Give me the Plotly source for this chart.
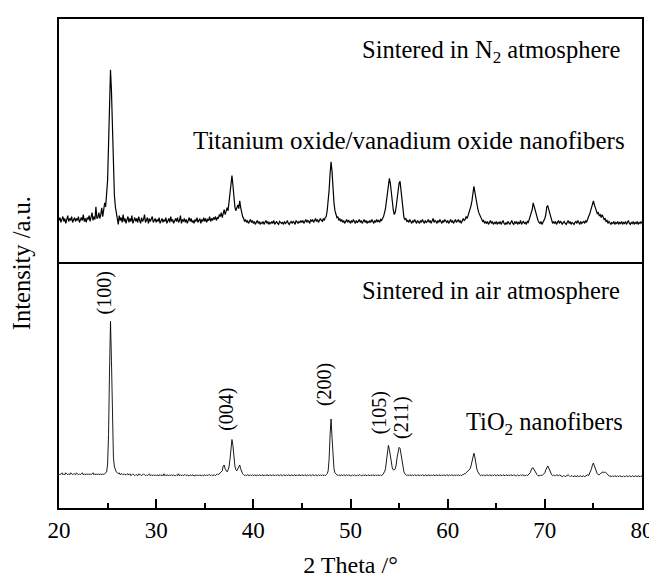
import plotly.graph_objects as go
from plotly.subplots import make_subplots

# 2-theta sampling grid (degrees)
X_START, X_STEP, N_PTS = 20.0, 0.1, 601
two_theta = [round(X_START + X_STEP * i, 1) for i in range(N_PTS)]

# Titanium oxide / vanadium oxide nanofibers, sintered in N2 (a.u.), 20.0 .. 80.0
int_n2 = [
    44, 47, 42, 45, 48, 43, 46, 41, 45, 49,
    43, 46, 44, 48, 42, 45, 47, 43, 46, 44,
    48, 42, 45, 47, 44, 50, 43, 46, 42, 47,
    45, 49, 43, 47, 52, 44, 48, 45, 58, 46,
    47, 52, 46, 50, 57, 48, 54, 62, 58, 68,
    85, 122, 168, 198, 176, 130, 92, 70, 58, 52,
    47, 40, 49, 44, 47, 42, 50, 43, 46, 41,
    45, 48, 42, 46, 43, 49, 41, 45, 47, 43,
    46, 42, 48, 44, 41, 47, 43, 45, 50, 42,
    44, 47, 41, 46, 43, 45, 48, 42, 44, 46,
    42, 45, 43, 47, 41, 44, 46, 42, 45, 43,
    47, 41, 44, 46, 42, 48, 43, 45, 41, 44,
    46, 43, 47, 42, 44, 49, 41, 45, 43, 46,
    42, 45, 41, 44, 47, 43, 46, 42, 44, 41,
    45, 43, 47, 42, 44, 46, 41, 45, 43, 47,
    43, 46, 42, 45, 44, 48, 43, 46, 44, 47,
    45, 48, 44, 47, 46, 50, 48, 52, 47, 52,
    55, 50, 53, 57, 54, 62, 68, 80, 90, 80,
    66, 58, 54, 57, 60, 56, 64, 57, 52, 48,
    46, 43, 45, 42, 44, 41, 43, 45, 42, 44,
    41, 43, 40, 42, 44, 41, 43, 40, 42, 41,
    43, 40, 42, 44, 41, 43, 40, 42, 41, 43,
    41, 44, 40, 42, 43, 41, 40, 43, 42, 41,
    42, 40, 43, 41, 42, 44, 41, 40, 42, 43,
    41, 43, 42, 40, 44, 42, 41, 43, 42, 44,
    42, 44, 41, 43, 45, 42, 44, 43, 41, 45,
    43, 45, 42, 44, 46, 43, 45, 42, 44, 46,
    44, 43, 46, 44, 47, 48, 54, 62, 75, 92,
    104, 94, 76, 62, 54, 50, 47, 48, 44, 46,
    43, 45, 42, 44, 41, 43, 45, 42, 44, 43,
    41, 44, 42, 45, 43, 41, 44, 42, 43, 45,
    42, 44, 41, 43, 45, 42, 44, 41, 43, 42,
    44, 42, 45, 43, 41, 44, 42, 45, 43, 44,
    42, 45, 44, 46, 48, 52, 56, 64, 74, 83,
    87, 82, 72, 62, 55, 50, 52, 58, 68, 77,
    82, 84, 74, 62, 53, 47, 45, 46, 43, 44,
    42, 45, 43, 41, 44, 42, 45, 43, 41, 44,
    43, 41, 44, 42, 45, 43, 41, 44, 42, 43,
    45, 42, 44, 41, 43, 46, 42, 44, 43, 41,
    44, 42, 45, 43, 41, 44, 42, 45, 43, 42,
    44, 41, 43, 45, 42, 44, 41, 43, 45, 42,
    43, 45, 42, 44, 41, 43, 46, 44, 45, 48,
    46, 49, 52, 55, 59, 64, 72, 79, 73, 66,
    60, 56, 52, 50, 47, 45, 43, 44, 41, 43,
    41, 43, 40, 42, 44, 41, 43, 40, 42, 41,
    43, 40, 42, 41, 43, 40, 42, 44, 41, 40,
    42, 40, 43, 41, 40, 42, 44, 41, 40, 43,
    41, 43, 40, 42, 41, 44, 40, 42, 43, 41,
    42, 40, 43, 42, 45, 48, 52, 55, 62, 58,
    54, 50, 47, 44, 42, 41, 43, 40, 42, 44,
    46, 50, 58, 59, 55, 50, 46, 43, 41, 43,
    41, 43, 40, 42, 44, 41, 43, 42, 40, 42,
    43, 41, 40, 42, 44, 41, 43, 40, 42, 41,
    40, 42, 43, 41, 44, 42, 40, 43, 41, 42,
    43, 41, 44, 42, 46, 48, 50, 54, 58, 62,
    64, 60, 56, 54, 51, 52, 49, 50, 47, 50,
    48, 45, 46, 43, 44, 41, 43, 42, 40, 42,
    41, 43, 40, 42, 41, 43, 40, 42, 41, 43,
    40, 42, 41, 43, 40, 42, 44, 41, 40, 42,
    41, 43, 40, 42, 41, 43, 40, 42, 41, 43,
    41,
]

# TiO2 nanofibers, sintered in air (a.u.), 20.0 .. 80.0
int_air = [
    35, 34, 35, 36, 34, 35, 34, 36, 35, 34,
    35, 34, 36, 35, 34, 35, 35, 34, 36, 35,
    34, 35, 34, 35, 36, 34, 35, 34, 35, 34,
    35, 34, 35, 34, 35, 36, 34, 35, 34, 35,
    34, 35, 34, 35, 34, 35, 34, 35, 36, 37,
    45, 75, 140, 191, 150, 85, 52, 42, 38, 37,
    36, 35, 36, 34, 35, 35, 34, 35, 34, 34,
    35, 34, 34, 35, 33, 34, 35, 34, 33, 34,
    34, 33, 35, 34, 34, 33, 34, 35, 34, 33,
    34, 33, 34, 35, 33, 34, 33, 34, 33, 34,
    33, 34, 33, 34, 34, 33, 34, 33, 35, 33,
    34, 33, 34, 33, 34, 33, 34, 33, 34, 33,
    33, 34, 33, 35, 33, 34, 33, 34, 33, 34,
    34, 33, 34, 33, 33, 34, 33, 34, 33, 33,
    33, 34, 33, 34, 33, 34, 33, 33, 34, 33,
    34, 33, 34, 33, 34, 34, 33, 34, 33, 34,
    34, 33, 34, 35, 34, 35, 35, 36, 38, 43,
    44, 40, 38, 37, 39, 42, 50, 62, 70, 64,
    52, 43, 39, 38, 40, 43, 44, 40, 37, 35,
    34, 33, 34, 33, 34, 33, 33, 34, 33, 34,
    33, 34, 33, 33, 34, 33, 34, 33, 33, 34,
    33, 33, 34, 33, 34, 33, 33, 34, 33, 33,
    34, 33, 33, 34, 33, 34, 33, 33, 34, 33,
    33, 34, 33, 33, 34, 33, 34, 33, 33, 34,
    33, 33, 34, 33, 33, 34, 33, 34, 33, 33,
    34, 33, 33, 34, 33, 33, 34, 33, 34, 33,
    33, 34, 33, 33, 34, 33, 33, 34, 33, 34,
    33, 34, 33, 34, 33, 34, 35, 38, 50, 75,
    91, 72, 50, 40, 36, 35, 34, 33, 34, 33,
    33, 34, 33, 34, 33, 33, 34, 33, 34, 33,
    33, 33, 34, 33, 34, 33, 33, 34, 33, 34,
    34, 33, 33, 34, 33, 34, 33, 33, 34, 33,
    33, 34, 33, 34, 33, 33, 34, 33, 34, 33,
    33, 34, 33, 34, 35, 37, 40, 48, 58, 64,
    60, 52, 45, 41, 39, 39, 40, 44, 52, 59,
    62, 61, 54, 46, 40, 37, 35, 34, 33, 34,
    33, 34, 33, 33, 34, 33, 34, 33, 33, 34,
    33, 33, 34, 33, 34, 33, 33, 34, 33, 33,
    34, 33, 33, 34, 33, 34, 33, 33, 34, 33,
    33, 34, 33, 33, 34, 33, 34, 33, 33, 34,
    33, 33, 34, 33, 34, 33, 33, 34, 33, 34,
    33, 34, 33, 34, 33, 34, 34, 35, 35, 36,
    37, 38, 38, 40, 43, 48, 53, 56, 52, 45,
    40, 37, 35, 34, 33, 34, 33, 34, 33, 33,
    34, 33, 33, 34, 33, 33, 34, 33, 34, 33,
    33, 34, 33, 33, 34, 33, 33, 34, 33, 33,
    34, 33, 33, 34, 33, 34, 33, 33, 34, 33,
    33, 33, 34, 33, 33, 34, 33, 34, 33, 33,
    33, 34, 33, 34, 34, 36, 39, 41, 41, 39,
    37, 35, 34, 33, 33, 33, 34, 33, 34, 35,
    36, 39, 42, 43, 41, 38, 36, 34, 33, 34,
    33, 33, 34, 33, 33, 34, 33, 33, 32, 33,
    33, 32, 33, 33, 34, 33, 32, 33, 33, 32,
    33, 33, 32, 33, 33, 32, 33, 33, 32, 33,
    33, 32, 33, 33, 34, 33, 35, 37, 40, 44,
    46, 43, 40, 37, 35, 34, 34, 35, 36, 37,
    37, 36, 37, 36, 35, 34, 33, 32, 33, 32,
    33, 32, 33, 32, 32, 33, 32, 33, 32, 32,
    32, 33, 32, 32, 33, 32, 32, 33, 32, 32,
    33, 32, 32, 33, 32, 32, 33, 32, 32, 33,
    32,
]

# Miller-index labels of the anatase peaks (bottom pattern)
hkl_labels = ["(100)", "(004)", "(200)", "(105)", "(211)"]
hkl_pos = [24.7, 37.25, 47.3, 52.95, 55.18]
hkl_height = [220, 101, 126, 97, 93]

x_ticks = [20, 30, 40, 50, 60, 70, 80]

FONT = "Liberation Serif"

fig = make_subplots(rows=2, cols=1, shared_xaxes=True, vertical_spacing=0)

fig.add_trace(go.Scatter(x=two_theta, y=int_n2, mode="lines",
                         line=dict(color="black", width=1.2), showlegend=False),
              row=1, col=1)
fig.add_trace(go.Scatter(x=two_theta, y=int_air, mode="lines",
                         line=dict(color="black", width=0.9), showlegend=False),
              row=2, col=1)

axis_common = dict(showline=True, linecolor="black", linewidth=2,
                   showgrid=False, zeroline=False)

fig.update_xaxes(range=[20, 80], **axis_common)
# top panel: only its top frame line (the divider is drawn by the lower axis)
fig.update_xaxes(side="top", mirror=False, ticks="", showticklabels=False,
                 row=1, col=1)
fig.update_xaxes(mirror=True, ticks="inside", ticklen=9, tickwidth=2,
                 tickcolor="black",
                 tickvals=x_ticks, ticktext=[str(v) for v in x_ticks],
                 tickfont=dict(family=FONT, size=23, color="black"),
                 minor=dict(dtick=5, tick0=20, ticks="inside", ticklen=5,
                            tickwidth=2, tickcolor="black"),
                 title=dict(text="2 Theta /\u00b0", standoff=15,
                            font=dict(family=FONT, size=24, color="black")),
                 row=2, col=1)
fig.update_yaxes(range=[0, 250], ticks="", showticklabels=False, mirror=True,
                 **axis_common)

ann = []
txt_font = dict(family=FONT, size=24.5, color="black")
ann.append(dict(text="Sintered in N<sub>2</sub> atmosphere", x=77.9, y=217,
                xref="x", yref="y", xanchor="right", yanchor="middle",
                showarrow=False, font=txt_font))
ann.append(dict(text="Titanium oxide/vanadium oxide nanofibers", x=78.5, y=126,
                xref="x", yref="y", xanchor="right", yanchor="middle",
                showarrow=False, font=dict(family=FONT, size=25, color="black")))
ann.append(dict(text="Sintered in air atmosphere", x=77.9, y=222,
                xref="x2", yref="y2", xanchor="right", yanchor="middle",
                showarrow=False, font=txt_font))
ann.append(dict(text="TiO<sub>2</sub> nanofibers", x=78.25, y=86,
                xref="x2", yref="y2", xanchor="right", yanchor="middle",
                showarrow=False, font=txt_font))
for lab, xp, yh in zip(hkl_labels, hkl_pos, hkl_height):
    ann.append(dict(text=lab, x=xp, y=yh, xref="x2", yref="y2",
                    xanchor="center", yanchor="middle", textangle=-90,
                    showarrow=False,
                    font=dict(family=FONT, size=20, color="black")))
ann.append(dict(text="Intensity /a.u.", x=-0.064, y=0.5, xref="paper",
                yref="paper", xanchor="center", yanchor="middle",
                textangle=-90, showarrow=False, font=txt_font))

fig.update_layout(width=657, height=577,
                  margin=dict(l=51, r=14, t=11, b=64),
                  plot_bgcolor="white", paper_bgcolor="white",
                  annotations=ann)

fig.write_html("out.html")
